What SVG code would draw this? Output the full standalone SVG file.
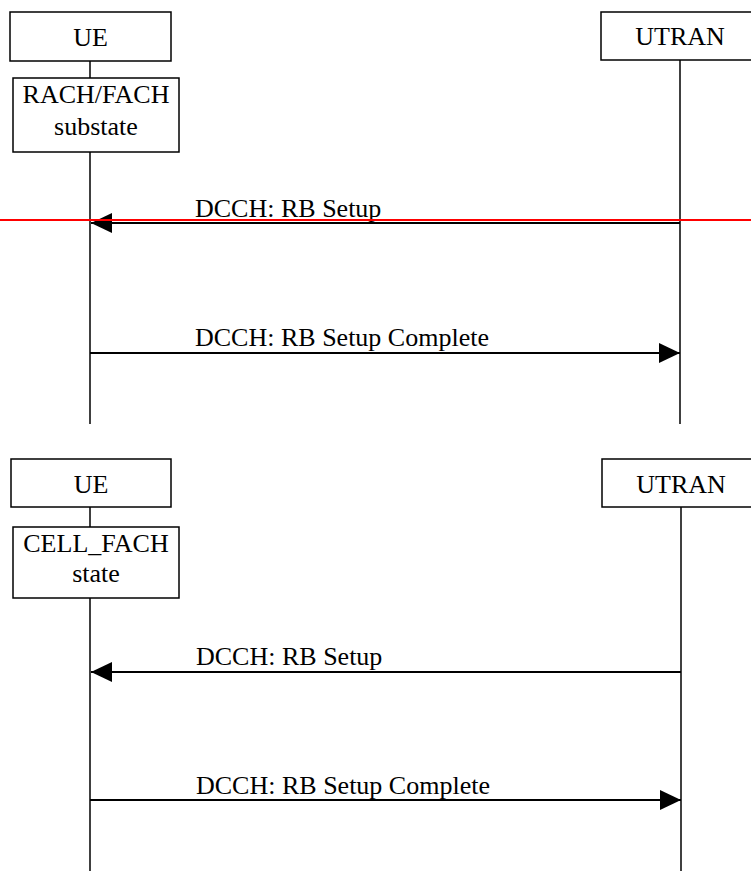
<svg xmlns="http://www.w3.org/2000/svg" width="751" height="875" viewBox="0 0 751 875">
<style>
.box{fill:#fff;stroke:#000;stroke-width:1.5}
.life{stroke:#000;stroke-width:1.5;fill:none}
.msg{stroke:#000;stroke-width:2.2;fill:none}
.t{font-family:"Liberation Serif","Times New Roman",serif;font-size:26px;fill:#000}
.c{text-anchor:middle}
</style>
<defs>
<marker id="ah" viewBox="0 0 21 20" refX="21" refY="10" markerWidth="21" markerHeight="20" markerUnits="userSpaceOnUse" orient="auto">
<path d="M0,0 L21,10 L0,20 Z" fill="#000"/>
</marker>
</defs>
<rect width="751" height="875" fill="#fff"/>
<g id="connectors">
<line class="life" x1="90" y1="61" x2="90" y2="78"/>
<line class="life" x1="90" y1="152" x2="90" y2="424"/>
<line class="life" x1="680" y1="60" x2="680" y2="424"/>
<line class="life" x1="90" y1="507" x2="90" y2="527"/>
<line class="life" x1="90" y1="598" x2="90" y2="871"/>
<line class="life" x1="681" y1="507" x2="681" y2="871"/>
<line class="msg" x1="680" y1="223" x2="91" y2="223" marker-end="url(#ah)"/>
<line class="msg" x1="90" y1="353" x2="680" y2="353" marker-end="url(#ah)"/>
<line class="msg" x1="681" y1="672" x2="91" y2="672" marker-end="url(#ah)"/>
<line class="msg" x1="90" y1="800" x2="681" y2="800" marker-end="url(#ah)"/>
<text class="t" x="195" y="217">DCCH: RB Setup</text>
<text class="t" x="195" y="346">DCCH: RB Setup Complete</text>
<text class="t" x="196" y="665">DCCH: RB Setup</text>
<text class="t" x="196" y="794">DCCH: RB Setup Complete</text>
</g>
<g id="ue1"><rect class="box" x="10" y="12" width="161" height="49"/><text class="t c" x="90.5" y="46">UE</text></g>
<g id="utran1"><rect class="box" x="601" y="12" width="160" height="48"/><text class="t c" x="680" y="45">UTRAN</text></g>
<g id="state1"><rect class="box" x="13" y="78" width="166" height="74"/><text class="t c" x="96" y="103">RACH/FACH</text><text class="t c" x="96" y="135">substate</text></g>
<g id="ue2"><rect class="box" x="11" y="459" width="160" height="48"/><text class="t c" x="91" y="493">UE</text></g>
<g id="utran2"><rect class="box" x="602" y="459" width="160" height="48"/><text class="t c" x="681" y="493">UTRAN</text></g>
<g id="state2"><rect class="box" x="13" y="527" width="166" height="71"/><text class="t c" x="96" y="552">CELL_FACH</text><text class="t c" x="96" y="582">state</text></g>
<line x1="0" y1="220" x2="751" y2="220" stroke="#f00" stroke-width="2"/>
</svg>
